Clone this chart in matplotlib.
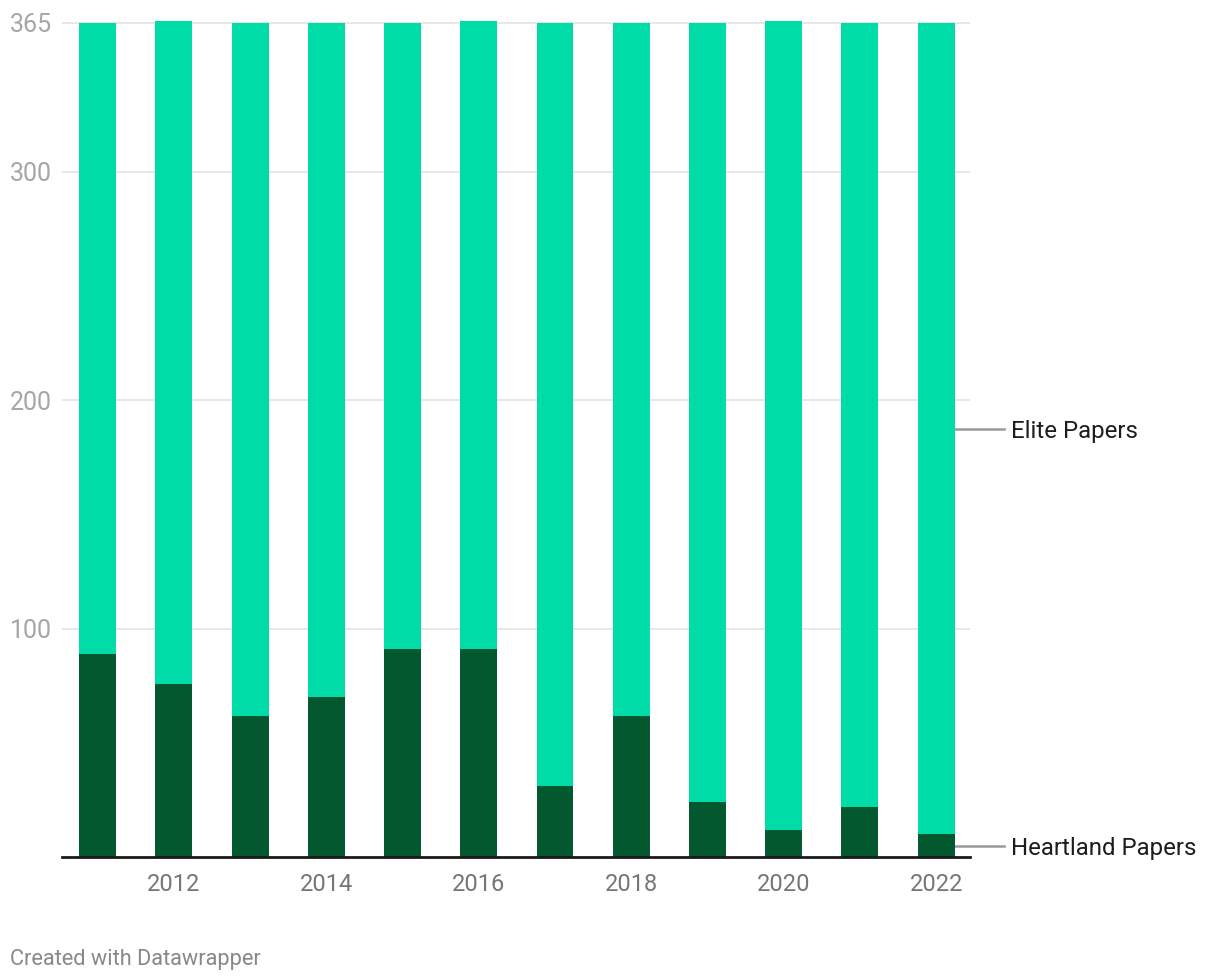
import matplotlib
matplotlib.use("Agg")
import matplotlib.pyplot as plt
from matplotlib.transforms import blended_transform_factory

plt.rcParams['font.family'] = ['Roboto', 'DejaVu Sans']

years = [2011, 2012, 2013, 2014, 2015, 2016, 2017, 2018, 2019, 2020, 2021, 2022]
days = [365, 366, 365, 365, 365, 366, 365, 365, 365, 366, 365, 365]
heartland = [89, 76, 62, 70, 91, 91, 31, 62, 24, 12, 22, 10]
elite = [d - h for d, h in zip(days, heartland)]
yticks = [100, 200, 300, 365]
xticks = [2012, 2014, 2016, 2018, 2020, 2022]

c_elite = '#00dca7'
c_heart = '#03582f'

W, H = 1220, 980
fig = plt.figure(figsize=(W / 100, H / 100), dpi=100)
ax = fig.add_axes([62 / W, 122.7 / H, 908 / W, 836.6 / H])

ax.bar(years, heartland, width=0.485, color=c_heart, zorder=3)
ax.bar(years, elite, bottom=heartland, width=0.485, color=c_elite, zorder=3)

ax.set_xlim(2011 - 0.466, 2022 + 0.443)
ax.set_ylim(0, 366)

for s in ['top', 'right', 'left']:
    ax.spines[s].set_visible(False)
ax.spines['bottom'].set_color('#1a1a1a')
ax.spines['bottom'].set_linewidth(2)
ax.spines['bottom'].set_zorder(4)

ax.set_yticks(yticks)
ax.set_yticklabels([])
ax.tick_params(axis='y', length=0)
ax.grid(axis='y', color='#e3e3e3', linewidth=1.2, zorder=0)

tr = blended_transform_factory(fig.transFigure, ax.transData)
for v in yticks:
    ax.text(10 / W, v, str(v), transform=tr, ha='left', va='center_baseline',
            fontsize=18, color='#a6a6a6')

ax.set_xticks(xticks)
ax.set_xticklabels([str(x) for x in xticks], fontsize=17, color='#767676')
ax.tick_params(axis='x', length=0, pad=11)

# labels at the last bar
last = len(years) - 1
mid_elite = heartland[last] + elite[last] / 2
mid_heart = heartland[last] / 2
for yv, name in [(mid_elite, 'Elite Papers'), (mid_heart, 'Heartland Papers')]:
    ax.plot([years[last] + 0.2425, years[last] + 0.885], [yv, yv],
            color='#999999', linewidth=1.8, clip_on=False, zorder=2)
    ax.text(years[last] + 0.985, yv, name, ha='left', va='center_baseline',
            fontsize=17.3, color='#1d1d1d', clip_on=False)

fig.text(10 / W, 1 - 957 / H, 'Created with Datawrapper', ha='left', va='center_baseline',
         fontsize=15.7, color='#888888')

fig.savefig('out.png', dpi=100, facecolor='white')
